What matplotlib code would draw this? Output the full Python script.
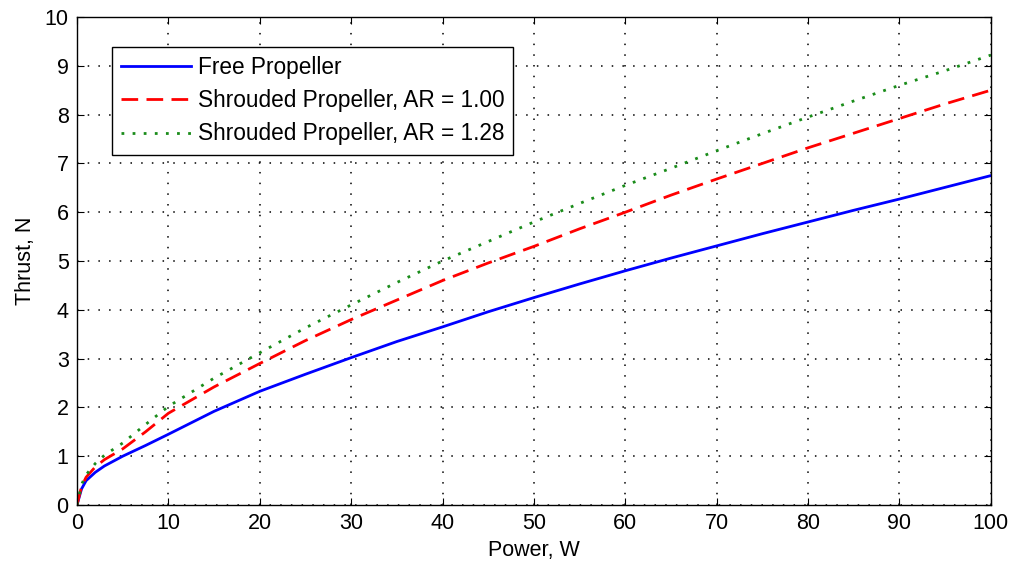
import matplotlib
matplotlib.use("Agg")
import matplotlib.pyplot as plt

# power (W) sample points
power = [0, 0.5, 1, 2, 3, 5, 7.5, 10, 15, 20, 25, 30, 35, 40, 45, 50,
         55, 60, 65, 70, 75, 80, 85, 90, 95, 100]

thrust_free = [0, 0.33, 0.5, 0.67, 0.8, 1.0, 1.22, 1.45, 1.92, 2.33, 2.68,
               3.02, 3.35, 3.65, 3.96, 4.25, 4.53, 4.8, 5.06, 5.31, 5.56,
               5.8, 6.04, 6.27, 6.51, 6.75]
thrust_ar100 = [0, 0.38, 0.57, 0.78, 0.93, 1.15, 1.5, 1.88, 2.42, 2.9, 3.37,
                3.8, 4.2, 4.6, 4.96, 5.3, 5.66, 6.0, 6.35, 6.68, 7.0, 7.32,
                7.62, 7.92, 8.22, 8.5]
thrust_ar128 = [0, 0.42, 0.62, 0.85, 1.02, 1.27, 1.65, 2.02, 2.6, 3.12, 3.63,
                4.1, 4.56, 5.0, 5.4, 5.8, 6.18, 6.55, 6.9, 7.26, 7.61, 7.95,
                8.28, 8.6, 8.9, 9.22]

labels = ['Free Propeller',
          'Shrouded Propeller, AR = 1.00',
          'Shrouded Propeller, AR = 1.28']

plt.rcParams['font.family'] = ['Liberation Sans', 'DejaVu Sans']
fs = 15.5

fig = plt.figure(figsize=(10.09, 5.67), dpi=100)
ax = fig.add_axes([0.0763, 0.1093, 0.9057, 0.8607])

ax.plot(power, thrust_free, color='blue', lw=2.0, label=labels[0])
ax.plot(power, thrust_ar100, color='red', lw=2.0, dashes=(6, 3), label=labels[1])
ax.plot(power, thrust_ar128, color='#1a8c1a', lw=2.0, dashes=(1, 3), label=labels[2])

ax.set_xlim(0, 100)
ax.set_ylim(0, 10)
ax.set_xticks(range(0, 101, 10))
ax.set_yticks(range(0, 11, 1))
ax.grid(True, color='black', linestyle=(0, (1, 6)), linewidth=1.1)
ax.tick_params(direction='in', length=5, labelsize=fs, colors='black',
               top=True, right=True, pad=6)
for s in ax.spines.values():
    s.set_linewidth(1.0)

ax.set_xlabel('Power, W', fontsize=fs, labelpad=4)
ax.set_ylabel('Thrust, N', fontsize=fs, labelpad=6)

leg = ax.legend(loc='upper left', bbox_to_anchor=(0.038, 0.9385),
                borderaxespad=0, fontsize=16.3, fancybox=False,
                edgecolor='black', framealpha=1, handlelength=3.1,
                labelspacing=0.45, handletextpad=0.3, borderpad=0.4)
leg.get_frame().set_linewidth(1.0)

fig.savefig('out.png', dpi=100)
